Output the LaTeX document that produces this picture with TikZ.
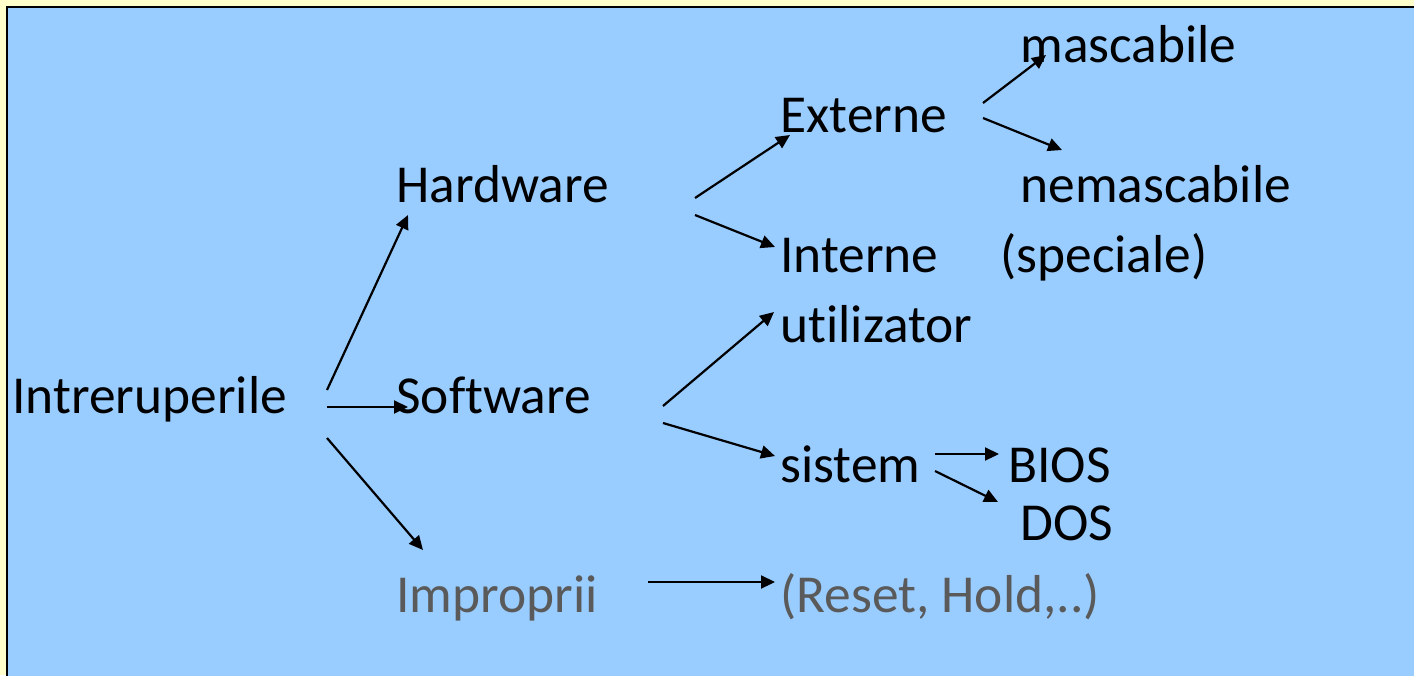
\documentclass[tikz,border=0pt]{standalone}
\usepackage{fontspec}
\setmainfont{Carlito}[Ligatures=NoCommon]
\usetikzlibrary{arrows.meta}
\definecolor{outerbg}{HTML}{FFFFCC}
\definecolor{panelbg}{HTML}{99CCFF}
\definecolor{graytext}{HTML}{5A5A5A}
\begin{document}
\begin{tikzpicture}[x=0.5pt,y=-0.5pt,
  lbl/.style={anchor=base west,inner sep=0pt,font=\fontsize{26.7pt}{30pt}\selectfont,text=black},
  glbl/.style={lbl,text=graytext},
  arr/.style={draw=black,line width=1.1pt,-{Triangle[length=7pt,width=6.5pt]}}]
\useasboundingbox (0,0) rectangle (1414,675);
\clip (0,0) rectangle (1414,675);
\fill[outerbg] (0,0) rectangle (1414,675);
\draw[fill=panelbg,line width=1.2pt] (7,7) rectangle (1430,690);

\node[lbl] (intr) at (12,413) {Intreruperile};
\node[lbl] (hard) at (396,202) {Hardware};
\node[lbl] (soft) at (396,413) {Software};
\node[glbl] (impr) at (396,612) {Improprii};
\node[lbl] (ext) at (780,132) {Externe};
\node[lbl] (int) at (780,272) {Interne};
\node[lbl] (util) at (780,342) {utilizator};
\node[lbl] (sist) at (780,482) {sistem};
\node[lbl] (masc) at (1020,62) {mascabile};
\node[lbl] (nemasc) at (1020,202) {nemascabile};
\node[lbl] (spec) at (1000,272) {(speciale)};
\node[lbl] (bios) at (1008,482) {BIOS};
\node[lbl] (dos) at (1020,540) {DOS};
\node[glbl] (reset) at (780,612) {(Reset, Hold,..)};

\coordinate (a1s) at (327,390); \coordinate (a1e) at (408,215);
\coordinate (a2s) at (327,407); \coordinate (a2e) at (408,407);
\coordinate (a3s) at (327,438); \coordinate (a3e) at (423,550);
\coordinate (b1s) at (695,198); \coordinate (b1e) at (790,135);
\coordinate (b2s) at (695,215); \coordinate (b2e) at (775,247);
\coordinate (c1s) at (663,406); \coordinate (c1e) at (774,312);
\coordinate (c2s) at (663,423); \coordinate (c2e) at (775,456);
\coordinate (d1s) at (648,582); \coordinate (d1e) at (775,582);
\coordinate (e1s) at (935,454); \coordinate (e1e) at (999,454);
\coordinate (e2s) at (935,471); \coordinate (e2e) at (998,502);
\coordinate (f1s) at (983,103); \coordinate (f1e) at (1046,55);
\coordinate (f2s) at (983,118); \coordinate (f2e) at (1062,150);

\draw[arr] (a1s) -- (a1e);
\draw[arr] (a2s) -- (a2e);
\draw[arr] (a3s) -- (a3e);
\draw[arr] (b1s) -- (b1e);
\draw[arr] (b2s) -- (b2e);
\draw[arr] (c1s) -- (c1e);
\draw[arr] (c2s) -- (c2e);
\draw[arr] (d1s) -- (d1e);
\draw[arr] (e1s) -- (e1e);
\draw[arr] (e2s) -- (e2e);
\draw[arr] (f1s) -- (f1e);
\draw[arr] (f2s) -- (f2e);
\end{tikzpicture}
\end{document}
